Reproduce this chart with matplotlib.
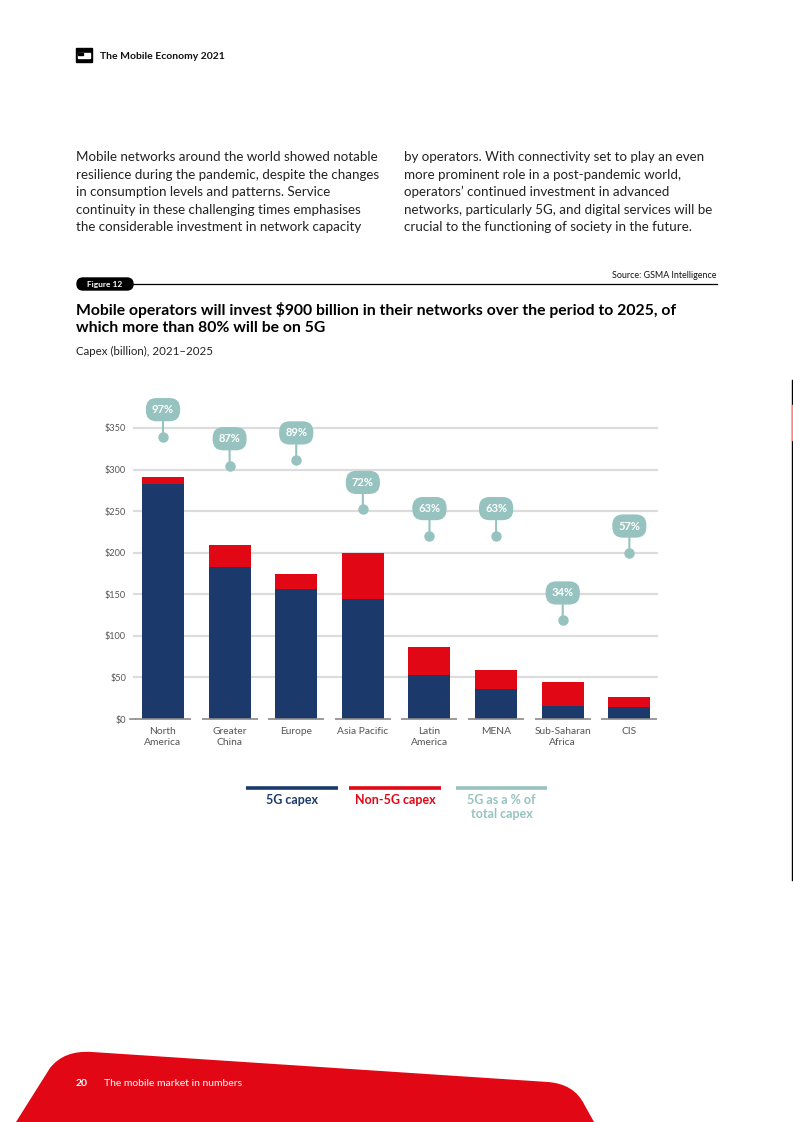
import matplotlib
matplotlib.use("Agg")
import matplotlib.pyplot as plt
from matplotlib.patches import FancyBboxPatch, PathPatch, Rectangle
from matplotlib.path import Path
import numpy as np

# ---------------- data ----------------
regions = ["North\nAmerica", "Greater\nChina", "Europe", "Asia Pacific",
           "Latin\nAmerica", "MENA", "Sub-Saharan\nAfrica", "CIS"]
capex_5g = [283, 183, 156, 144, 53, 36, 16, 14]
capex_non5g = [8, 26, 19, 56, 33, 23, 29, 12]
share_5g = [97, 87, 89, 72, 63, 63, 34, 57]
yticks = [0, 50, 100, 150, 200, 250, 300, 350]
ytick_labels = ["$0", "$50", "$100", "$150", "$200", "$250", "$300", "$350"]

NAVY = "#1b3a6b"
RED = "#e10714"
TEAL = "#96c3bf"
GRID = "#dcdcdc"
TXT = "#555555"

plt.rcParams["font.family"] = ["Lato", "DejaVu Sans"]

W, H = 793, 1122
fig = plt.figure(figsize=(W / 100, H / 100), dpi=100)

# background axes in pixel coordinates
bg = fig.add_axes([0, 0, 1, 1], zorder=0)
bg.set_xlim(0, W)
bg.set_ylim(H, 0)
bg.axis("off")

# header
bg.add_patch(Rectangle((76, 48), 16, 14, color="black"))
bg.add_patch(Rectangle((78, 53), 12, 5, color="white"))
bg.add_patch(Rectangle((78, 53), 5, 2, color="black"))
bg.text(100, 56, "The Mobile Economy 2021", fontsize=7.5, fontweight="bold",
        va="center", ha="left", color="#111111")

# intro paragraphs
left_lines = ["Mobile networks around the world showed notable",
              "resilience during the pandemic, despite the changes",
              "in consumption levels and patterns. Service",
              "continuity in these challenging times emphasises",
              "the considerable investment in network capacity"]
right_lines = ["by operators. With connectivity set to play an even",
               "more prominent role in a post-pandemic world,",
               "operators\u2019 continued investment in advanced",
               "networks, particularly 5G, and digital services will be",
               "crucial to the functioning of society in the future."]
for i, (l, r) in enumerate(zip(left_lines, right_lines)):
    y = 157 + i * 17.6
    bg.text(76, y, l, fontsize=9.6, va="center", ha="left", color="#222222")
    bg.text(404, y, r, fontsize=9.6, va="center", ha="left", color="#222222")

# figure label
bg.plot([120, 717], [284, 284], color="black", lw=0.9)
bg.add_patch(FancyBboxPatch((77, 278), 56, 12,
                            boxstyle="round,pad=0,rounding_size=6",
                            color="black"))
bg.text(105, 284.5, "Figure 12", fontsize=6, fontweight="bold",
        color="white", ha="center", va="center")
bg.text(717, 275, "Source: GSMA Intelligence", fontsize=6.4, ha="right",
        va="center", color="#111111")

# title
bg.text(76, 310, "Mobile operators will invest $900 billion in their networks over the period to 2025, of",
        fontsize=11.35, fontweight="bold", ha="left", va="center", color="black")
bg.text(76, 328, "which more than 80% will be on 5G",
        fontsize=11.35, fontweight="bold", ha="left", va="center", color="black")
bg.text(76, 351, "Capex (billion), 2021\u20132025", fontsize=8.3, ha="left",
        va="center", color="#222222")

# legend
leg = [(246, 338, NAVY, "5G capex"), (349, 441, RED, "Non-5G capex"),
       (456, 547, TEAL, "5G as a % of\ntotal capex")]
for x0, x1, c, t in leg:
    bg.plot([x0, x1], [788, 788], color=c, lw=2.6, solid_capstyle="butt")
    bg.text((x0 + x1) / 2, 794, t, color=c, fontsize=9, fontweight="bold",
            ha="center", va="top", linespacing=1.15)

# footer shape
verts = [(16, 1122), (50, 1068), (64, 1050), (92, 1052), (548, 1082),
         (574, 1084), (584, 1104), (594, 1122), (16, 1122)]
codes = [Path.MOVETO, Path.LINETO, Path.CURVE3, Path.CURVE3, Path.LINETO,
         Path.CURVE3, Path.CURVE3, Path.LINETO, Path.CLOSEPOLY]
bg.add_patch(PathPatch(Path(verts, codes), facecolor=RED, edgecolor="none"))
bg.text(76, 1084, "20", fontsize=7.5, fontweight="bold", color="white",
        ha="left", va="center")
bg.text(104, 1084, "The mobile market in numbers", fontsize=7.5, color="white",
        ha="left", va="center")

# right edge line
bg.plot([792, 792], [380, 880], color="black", lw=1)
bg.plot([792, 792], [405, 440], color="#ff8080", lw=1)

# ---------------- chart ----------------
ymax = 385
px_per_unit = (719 - 428) / 350
top_px = 719 - ymax * px_per_unit
ax = fig.add_axes([133 / W, (H - 719) / H, (658 - 133) / W, (719 - top_px) / H],
                  zorder=2)
ax.patch.set_alpha(0)
x = np.arange(len(regions))
ax.bar(x, capex_5g, width=0.63, color=NAVY, zorder=3)
ax.bar(x, capex_non5g, width=0.63, bottom=capex_5g, color=RED, zorder=3)
ax.set_xlim(-0.45, 7.43)
ax.set_ylim(0, ymax)
for s in ax.spines.values():
    s.set_visible(False)
ax.set_yticks(yticks)
ax.set_yticklabels(ytick_labels, fontsize=6.6, color=TXT)
ax.tick_params(axis="y", length=0, pad=5)
for yv in yticks[1:]:
    ax.axhline(yv, color=GRID, lw=1.6, zorder=1)
for xi in x:
    ax.plot([xi - 0.42, xi + 0.42], [0, 0], color="#8a8a8a", lw=1.2,
            zorder=4, solid_capstyle="butt", clip_on=False)
ax.plot([-0.5, -0.42], [0, 0], color="#8a8a8a", lw=1.2, clip_on=False)
ax.set_xticks(x)
ax.set_xticklabels(regions, fontsize=7.4, color=TXT, linespacing=1.2)
ax.tick_params(axis="x", length=0, pad=6)

# secondary axis for percentage callouts
ax2 = ax.twinx()
ax2.set_ylim(0, ymax / 3.5)
ax2.axis("off")
for xi, p in zip(x, share_5g):
    ax2.plot(xi, p, "o", color=TEAL, ms=6.5, zorder=5, clip_on=False)
    ax2.annotate(f"{p}%", xy=(xi, p), xytext=(0, 19.5),
                 textcoords="offset points", ha="center", va="center",
                 fontsize=8, fontweight="bold", color="white",
                 bbox=dict(boxstyle="round,pad=0.55,rounding_size=0.95",
                           fc=TEAL, ec="none"),
                 arrowprops=dict(arrowstyle="-", color=TEAL, lw=1.5,
                                 shrinkA=0, shrinkB=0),
                 annotation_clip=False, zorder=6)

fig.savefig("out.png", dpi=100)
